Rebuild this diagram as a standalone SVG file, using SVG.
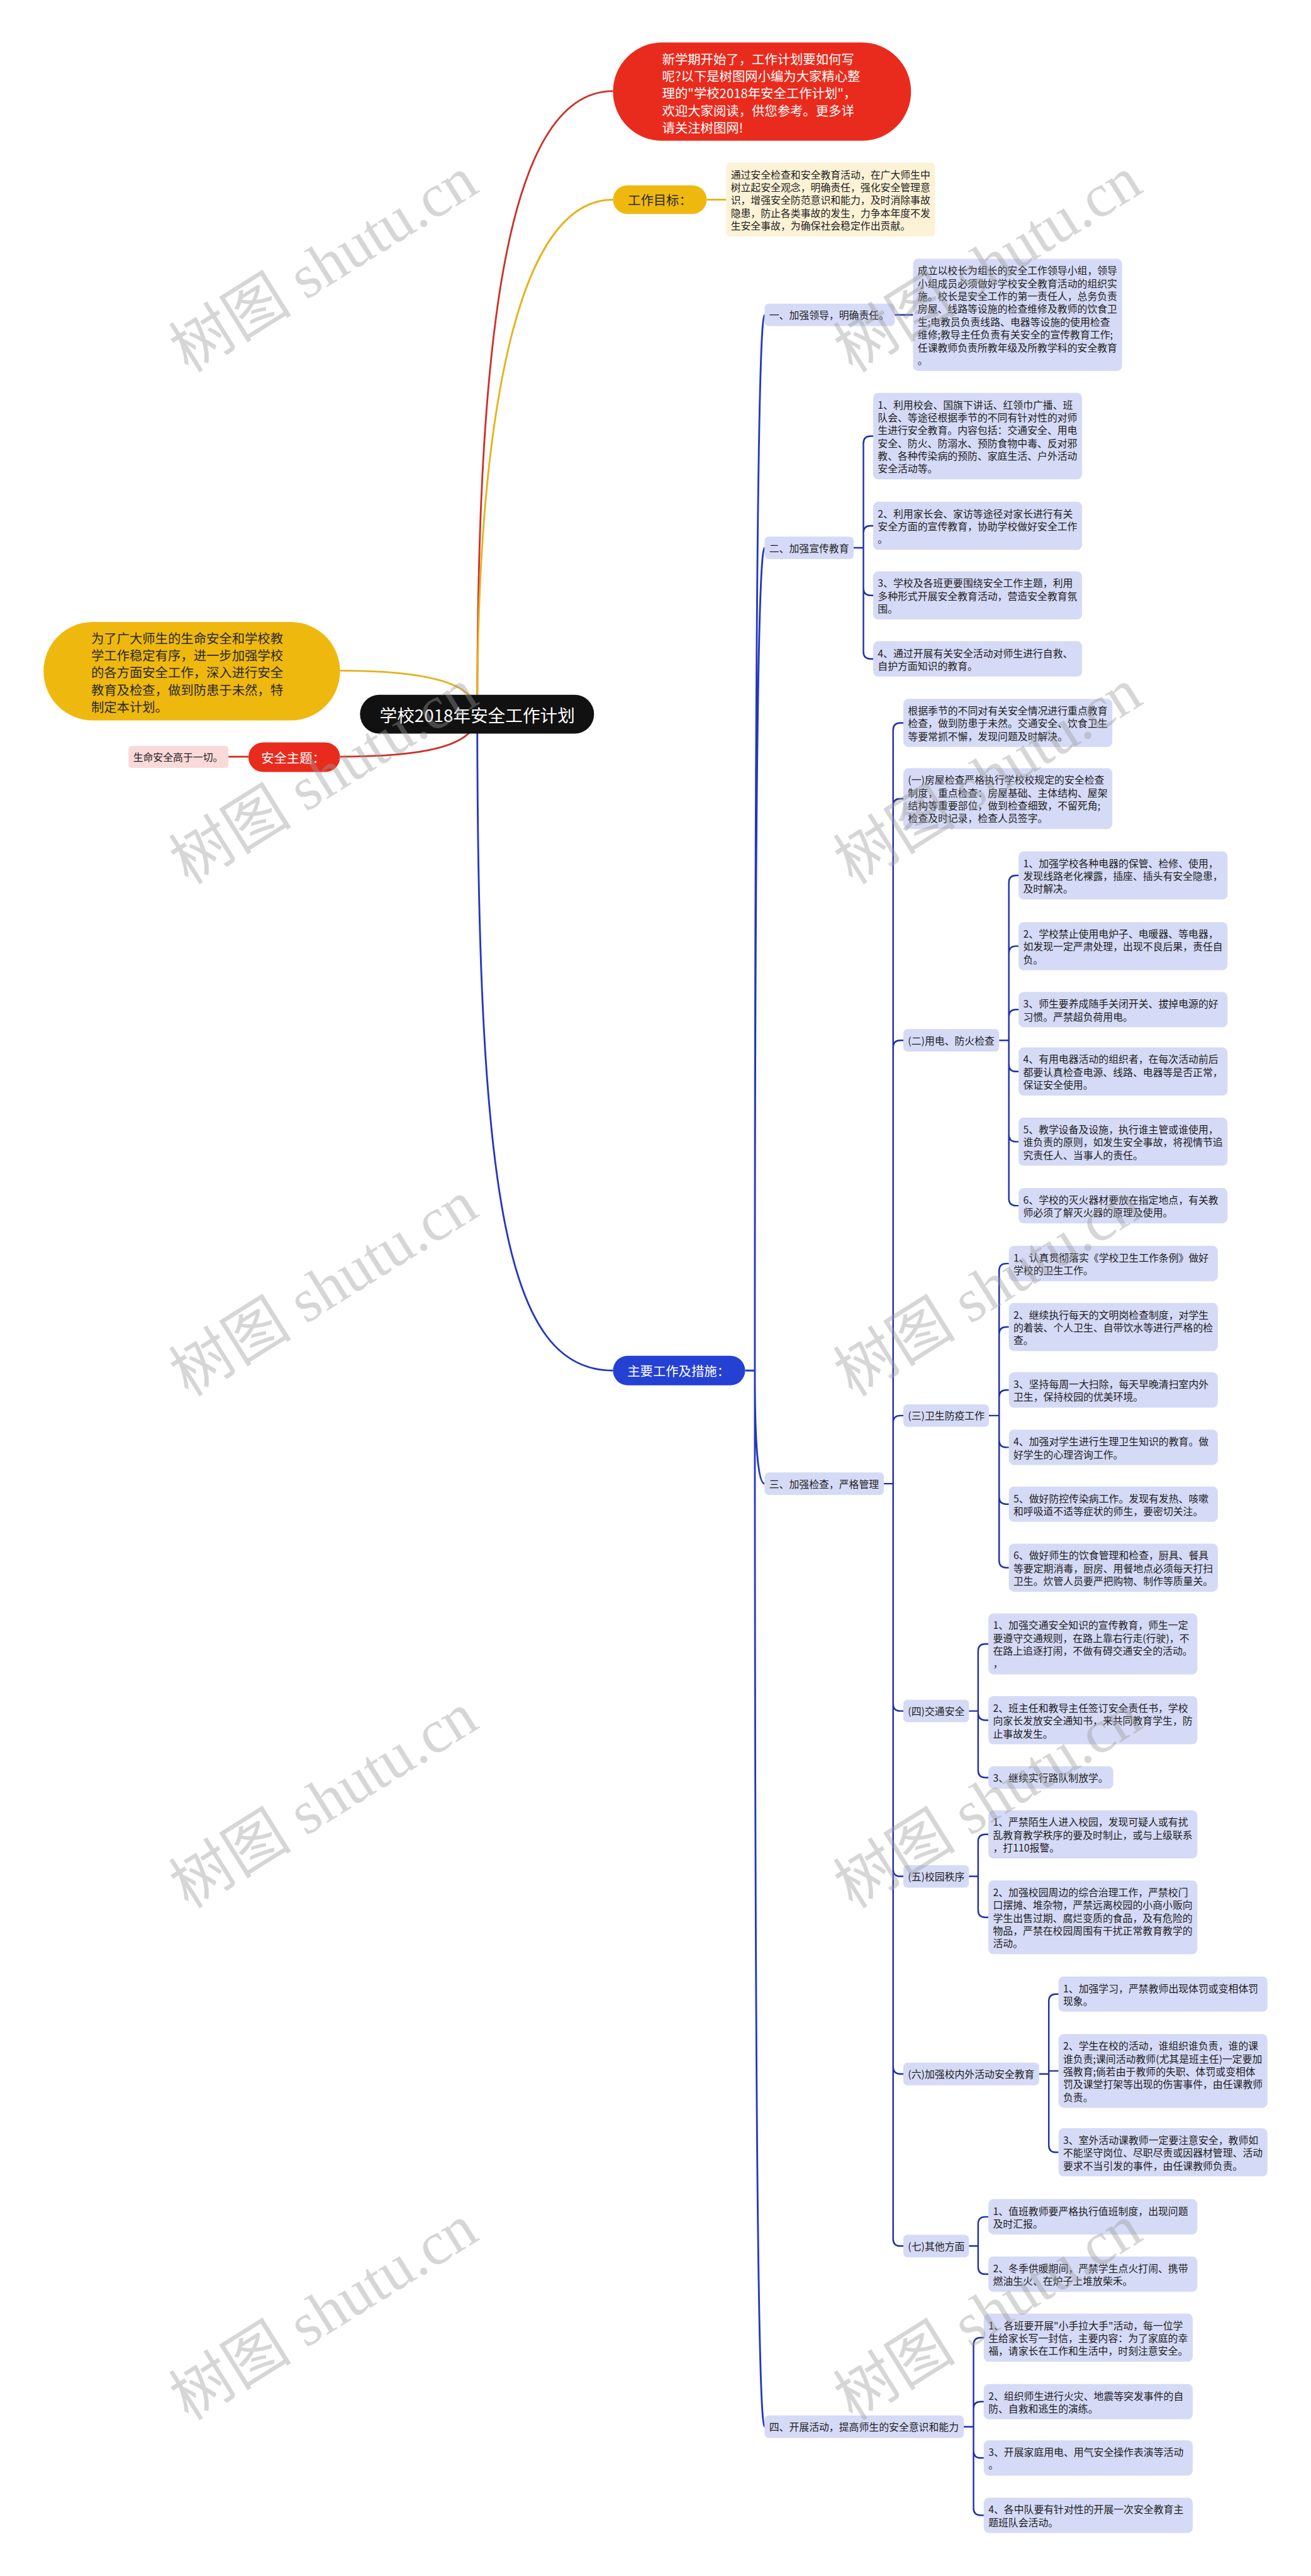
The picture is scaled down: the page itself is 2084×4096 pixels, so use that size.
<svg xmlns="http://www.w3.org/2000/svg" width="2084" height="4096" viewBox="0 0 2084 4096">
<style>
text{font-family:"Noto Sans CJK SC","Noto Sans",sans-serif}
.lf{fill:#D5DAF6}
.tx{font-size:19.5px;fill:#1e1e1e;dominant-baseline:central}
.big{font-size:25px;dominant-baseline:central}
.w{fill:#fff}
.dk{fill:#2a2a2a}
.cb{fill:none;stroke:#1F31A6;stroke-width:3}
.cm{fill:none;stroke:#2338BE;stroke-width:3.5}
.wm{font-family:"Liberation Serif","Noto Sans CJK SC",serif;font-size:120px;fill:#9a9a9a;opacity:.4;text-anchor:middle;dominant-baseline:central}
</style>
<rect width="2084" height="4096" fill="#fff"/>
<g transform="scale(0.8140625)">
<g id="connectors">
<path d="M932,1395 C932,700 980,178 1197,178" fill="none" stroke="#CC3129" stroke-width="3.5"/>
<path d="M932,1395 C932,900 990,390 1197,390" fill="none" stroke="#E5B21A" stroke-width="3.5"/>
<path d="M932,1395 C932,1330 820,1310 664,1310" fill="none" stroke="#E5B21A" stroke-width="3.5"/>
<path d="M932,1395 C932,1460 820,1478 664,1478" fill="none" stroke="#CC3129" stroke-width="3.5"/>
<path d="M446,1478 H485" fill="none" stroke="#CC3129" stroke-width="3.5"/>
<path d="M1380,390 H1418" fill="none" stroke="#E5B21A" stroke-width="3.5"/>
<path d="M932,1395 C932,2350 990,2677 1197,2677" class="cm"/>
<path class="cm" d="M1455,2677 H1474 M1474,2677 Q1474,615 1493,615 M1474,2677 Q1474,1070 1493,1070 M1474,2677 Q1474,2898 1493,2898 M1474,2677 Q1474,4740 1493,4740"/>
<path class="cb" d="M1747,615 H1783"/>
<path class="cb" d="M1667,1070 H1686 M1686,1070 V866 Q1686,852 1700,852 H1705 M1686,1070 V1041 Q1686,1027 1700,1027 H1705 M1686,1070 V1149 Q1686,1163 1700,1163 H1705 M1686,1070 V1273 Q1686,1287 1700,1287 H1705"/>
<path class="cb" d="M1726,2898 H1744 M1744,2898 V1426 Q1744,1412 1758,1412 H1764 M1744,2898 V1574 Q1744,1560 1758,1560 H1764 M1744,2898 V2046 Q1744,2032 1758,2032 H1764 M1744,2898 V2779 Q1744,2765 1758,2765 H1764 M1744,2898 V3328 Q1744,3342 1758,3342 H1764 M1744,2898 V3651 Q1744,3665 1758,3665 H1764 M1744,2898 V4037 Q1744,4051 1758,4051 H1764 M1744,2898 V4373 Q1744,4387 1758,4387 H1764"/>
<path class="cb" d="M1951,2032 H1970 M1970,2032 V1724 Q1970,1710 1984,1710 H1989 M1970,2032 V1862 Q1970,1848 1984,1848 H1989 M1970,2032 V1986 Q1970,1972 1984,1972 H1989 M1970,2032 V2079 Q1970,2093 1984,2093 H1989 M1970,2032 V2216 Q1970,2230 1984,2230 H1989 M1970,2032 V2341 Q1970,2355 1984,2355 H1989"/>
<path class="cb" d="M1931,2765 H1951 M1951,2765 V2482 Q1951,2468 1965,2468 H1970 M1951,2765 V2606 Q1951,2592 1965,2592 H1970 M1951,2765 V2729 Q1951,2715 1965,2715 H1970 M1951,2765 V2813 Q1951,2827 1965,2827 H1970 M1951,2765 V2924 Q1951,2938 1965,2938 H1970 M1951,2765 V3048 Q1951,3062 1965,3062 H1970"/>
<path class="cb" d="M1892,3342 H1910 M1910,3342 V3225 Q1910,3211 1924,3211 H1930 M1910,3342 V3346 Q1910,3360 1924,3360 H1930 M1910,3342 V3458 Q1910,3472 1924,3472 H1930"/>
<path class="cb" d="M1892,3665 H1910 M1910,3665 V3597 Q1910,3583 1924,3583 H1930 M1910,3665 V3731 Q1910,3745 1924,3745 H1930"/>
<path class="cb" d="M2029,4051 H2048 M2048,4051 V3909 Q2048,3895 2062,3895 H2067 M2048,4051 V4045 H2067 M2048,4051 V4190 Q2048,4204 2062,4204 H2067"/>
<path class="cb" d="M1892,4387 H1910 M1910,4387 V4344 Q1910,4330 1924,4330 H1930 M1910,4387 V4428 Q1910,4442 1924,4442 H1930"/>
<path class="cb" d="M1882,4740 H1901 M1901,4740 V4580 Q1901,4566 1915,4566 H1921 M1901,4740 V4705 Q1901,4691 1915,4691 H1921 M1901,4740 V4787 Q1901,4801 1915,4801 H1921 M1901,4740 V4899 Q1901,4913 1915,4913 H1921"/>
</g>

<g id="root"><rect x="703" y="1357" width="457" height="76" rx="38" fill="#111"/><text x="932" y="1395" text-anchor="middle" class="w" style="font-size:34px;dominant-baseline:central">学校2018年安全工作计划</text></g>

<g id="intro"><rect x="1197" y="83" width="582" height="192" rx="96" fill="#E92B1D"/>
<text class="big w"><tspan x="1293" y="114.5">新学期开始了，工作计划要如何写</tspan><tspan x="1293" y="147.8">呢?以下是树图网小编为大家精心整</tspan><tspan x="1293" y="181.1">理的"学校2018年安全工作计划"，</tspan><tspan x="1293" y="214.4">欢迎大家阅读，供您参考。更多详</tspan><tspan x="1293" y="247.7">请关注树图网!</tspan></text></g>

<g id="goal"><rect x="1197" y="362" width="183" height="56" rx="28" fill="#EFB80F"/><text x="1226" y="390" class="big dk">工作目标：</text></g>
<g id="goal-text"><rect x="1418" y="318" width="408" height="144" rx="8" fill="#FCF2D6"/>
<text class="tx"><tspan x="1427" y="340">通过安全检查和安全教育活动，在广大师生中</tspan><tspan x="1427" y="365">树立起安全观念，明确责任，强化安全管理意</tspan><tspan x="1427" y="390">识，增强安全防范意识和能力，及时消除事故</tspan><tspan x="1427" y="415">隐患，防止各类事故的发生，力争本年度不发</tspan><tspan x="1427" y="440">生安全事故，为确保社会稳定作出贡献。</tspan></text></g>

<g id="purpose"><rect x="85" y="1215" width="579" height="192" rx="96" fill="#EFB80F"/>
<text class="big dk"><tspan x="178" y="1245.5">为了广大师生的生命安全和学校教</tspan><tspan x="178" y="1279">学工作稳定有序，进一步加强学校</tspan><tspan x="178" y="1312.5">的各方面安全工作，深入进行安全</tspan><tspan x="178" y="1346">教育及检查，做到防患于未然，特</tspan><tspan x="178" y="1379.5">制定本计划。</tspan></text></g>

<g id="theme"><rect x="485" y="1450" width="179" height="58" rx="29" fill="#E92B1D"/><text x="510" y="1479" class="big w">安全主题：</text></g>
<g id="theme-text"><rect x="251" y="1457" width="195" height="43" rx="6" fill="#FAD9D9"/><text x="260" y="1478.5" class="tx">生命安全高于一切。</text></g>

<g id="main"><rect x="1197" y="2648" width="258" height="58" rx="29" fill="#2441D4"/><text x="1225" y="2677" class="big w">主要工作及措施：</text></g>

<g id="s1"><rect class="lf" x="1493" y="593" width="254" height="44" rx="8"/><text x="1502" y="615" class="tx">一、加强领导，明确责任。</text></g>
<g id="s1-leaf"><rect class="lf" x="1783" y="505.5" width="408" height="219" rx="10"/>
<text class="tx"><tspan x="1792" y="527.5">成立以校长为组长的安全工作领导小组，领导</tspan><tspan x="1792" y="552.5">小组成员必须做好学校安全教育活动的组织实</tspan><tspan x="1792" y="577.5">施。校长是安全工作的第一责任人，总务负责</tspan><tspan x="1792" y="602.5">房屋、线路等设施的检查维修及教师的饮食卫</tspan><tspan x="1792" y="627.5">生;电教员负责线路、电器等设施的使用检查</tspan><tspan x="1792" y="652.5">维修;教导主任负责有关安全的宣传教育工作;</tspan><tspan x="1792" y="677.5">任课教师负责所教年级及所教学科的安全教育</tspan><tspan x="1792" y="702.5">。</tspan></text></g>

<g id="s2"><rect class="lf" x="1493" y="1048" width="174" height="44" rx="8"/><text x="1502" y="1070" class="tx">二、加强宣传教育</text></g>
<g id="s2-1"><rect class="lf" x="1705" y="767.5" width="408" height="169" rx="10"/>
<text class="tx"><tspan x="1714" y="789.5">1、利用校会、国旗下讲话、红领巾广播、班</tspan><tspan x="1714" y="814.5">队会、等途径根据季节的不同有针对性的对师</tspan><tspan x="1714" y="839.5">生进行安全教育。内容包括：交通安全、用电</tspan><tspan x="1714" y="864.5">安全、防火、防溺水、预防食物中毒、反对邪</tspan><tspan x="1714" y="889.5">教、各种传染病的预防、家庭生活、户外活动</tspan><tspan x="1714" y="914.5">安全活动等。</tspan></text></g>
<g id="s2-2"><rect class="lf" x="1705" y="980" width="408" height="94" rx="10"/>
<text class="tx"><tspan x="1714" y="1002">2、利用家长会、家访等途径对家长进行有关</tspan><tspan x="1714" y="1027">安全方面的宣传教育，协助学校做好安全工作</tspan><tspan x="1714" y="1052">。</tspan></text></g>
<g id="s2-3"><rect class="lf" x="1705" y="1116" width="408" height="94" rx="10"/>
<text class="tx"><tspan x="1714" y="1138">3、学校及各班更要围绕安全工作主题，利用</tspan><tspan x="1714" y="1163">多种形式开展安全教育活动，营造安全教育氛</tspan><tspan x="1714" y="1188">围。</tspan></text></g>
<g id="s2-4"><rect class="lf" x="1705" y="1252.5" width="408" height="69" rx="10"/>
<text class="tx"><tspan x="1714" y="1274.5">4、通过开展有关安全活动对师生进行自救、</tspan><tspan x="1714" y="1299.5">自护方面知识的教育。</tspan></text></g>

<g id="s3"><rect class="lf" x="1493" y="2876" width="233" height="44" rx="8"/><text x="1502" y="2898" class="tx">三、加强检查，严格管理</text></g>
<g id="s3-a"><rect class="lf" x="1764" y="1365" width="408" height="94" rx="10"/>
<text class="tx"><tspan x="1773" y="1387">根据季节的不同对有关安全情况进行重点教育</tspan><tspan x="1773" y="1412">检查，做到防患于未然。交通安全、饮食卫生</tspan><tspan x="1773" y="1437">等要常抓不懈，发现问题及时解决。</tspan></text></g>
<g id="s3-b"><rect class="lf" x="1764" y="1500.5" width="408" height="119" rx="10"/>
<text class="tx"><tspan x="1773" y="1522.5">(一)房屋检查严格执行学校校规定的安全检查</tspan><tspan x="1773" y="1547.5">制度，重点检查：房屋基础、主体结构、屋架</tspan><tspan x="1773" y="1572.5">结构等重要部位，做到检查细致，不留死角;</tspan><tspan x="1773" y="1597.5">检查及时记录，检查人员签字。</tspan></text></g>

<g id="s3-2"><rect class="lf" x="1764" y="2010" width="187" height="44" rx="8"/><text x="1773" y="2032" class="tx">(二)用电、防火检查</text></g>
<g id="s3-2-1"><rect class="lf" x="1989" y="1663" width="408" height="94" rx="10"/>
<text class="tx"><tspan x="1998" y="1685">1、加强学校各种电器的保管、检修、使用，</tspan><tspan x="1998" y="1710">发现线路老化裸露，插座、插头有安全隐患，</tspan><tspan x="1998" y="1735">及时解决。</tspan></text></g>
<g id="s3-2-2"><rect class="lf" x="1989" y="1801" width="408" height="94" rx="10"/>
<text class="tx"><tspan x="1998" y="1823">2、学校禁止使用电炉子、电暖器、等电器，</tspan><tspan x="1998" y="1848">如发现一定严肃处理，出现不良后果，责任自</tspan><tspan x="1998" y="1873">负。</tspan></text></g>
<g id="s3-2-3"><rect class="lf" x="1989" y="1937.5" width="408" height="69" rx="10"/>
<text class="tx"><tspan x="1998" y="1959.5">3、师生要养成随手关闭开关、拔掉电源的好</tspan><tspan x="1998" y="1984.5">习惯。严禁超负荷用电。</tspan></text></g>
<g id="s3-2-4"><rect class="lf" x="1989" y="2046" width="408" height="94" rx="10"/>
<text class="tx"><tspan x="1998" y="2068">4、有用电器活动的组织者，在每次活动前后</tspan><tspan x="1998" y="2093">都要认真检查电源、线路、电器等是否正常，</tspan><tspan x="1998" y="2118">保证安全使用。</tspan></text></g>
<g id="s3-2-5"><rect class="lf" x="1989" y="2183" width="408" height="94" rx="10"/>
<text class="tx"><tspan x="1998" y="2205">5、教学设备及设施，执行谁主管或谁使用，</tspan><tspan x="1998" y="2230">谁负责的原则，如发生安全事故，将视情节追</tspan><tspan x="1998" y="2255">究责任人、当事人的责任。</tspan></text></g>
<g id="s3-2-6"><rect class="lf" x="1989" y="2320.5" width="408" height="69" rx="10"/>
<text class="tx"><tspan x="1998" y="2342.5">6、学校的灭火器材要放在指定地点，有关教</tspan><tspan x="1998" y="2367.5">师必须了解灭火器的原理及使用。</tspan></text></g>

<g id="s3-3"><rect class="lf" x="1764" y="2743" width="167" height="44" rx="8"/><text x="1773" y="2765" class="tx">(三)卫生防疫工作</text></g>
<g id="s3-3-1"><rect class="lf" x="1970" y="2433.5" width="408" height="69" rx="10"/>
<text class="tx"><tspan x="1979" y="2455.5">1、认真贯彻落实《学校卫生工作条例》做好</tspan><tspan x="1979" y="2480.5">学校的卫生工作。</tspan></text></g>
<g id="s3-3-2"><rect class="lf" x="1970" y="2545" width="408" height="94" rx="10"/>
<text class="tx"><tspan x="1979" y="2567">2、继续执行每天的文明岗检查制度，对学生</tspan><tspan x="1979" y="2592">的着装、个人卫生、自带饮水等进行严格的检</tspan><tspan x="1979" y="2617">查。</tspan></text></g>
<g id="s3-3-3"><rect class="lf" x="1970" y="2680.5" width="408" height="69" rx="10"/>
<text class="tx"><tspan x="1979" y="2702.5">3、坚持每周一大扫除，每天早晚清扫室内外</tspan><tspan x="1979" y="2727.5">卫生，保持校园的优美环境。</tspan></text></g>
<g id="s3-3-4"><rect class="lf" x="1970" y="2792.5" width="408" height="69" rx="10"/>
<text class="tx"><tspan x="1979" y="2814.5">4、加强对学生进行生理卫生知识的教育。做</tspan><tspan x="1979" y="2839.5">好学生的心理咨询工作。</tspan></text></g>
<g id="s3-3-5"><rect class="lf" x="1970" y="2903.5" width="408" height="69" rx="10"/>
<text class="tx"><tspan x="1979" y="2925.5">5、做好防控传染病工作。发现有发热、咳嗽</tspan><tspan x="1979" y="2950.5">和呼吸道不适等症状的师生，要密切关注。</tspan></text></g>
<g id="s3-3-6"><rect class="lf" x="1970" y="3015" width="408" height="94" rx="10"/>
<text class="tx"><tspan x="1979" y="3037">6、做好师生的饮食管理和检查，厨具、餐具</tspan><tspan x="1979" y="3062">等要定期消毒，厨房、用餐地点必须每天打扫</tspan><tspan x="1979" y="3087">卫生。炊管人员要严把购物、制作等质量关。</tspan></text></g>

<g id="s3-4"><rect class="lf" x="1764" y="3320" width="128" height="44" rx="8"/><text x="1773" y="3342" class="tx">(四)交通安全</text></g>
<g id="s3-4-1"><rect class="lf" x="1930" y="3151.5" width="408" height="119" rx="10"/>
<text class="tx"><tspan x="1939" y="3173.5">1、加强交通安全知识的宣传教育，师生一定</tspan><tspan x="1939" y="3198.5">要遵守交通规则，在路上靠右行走(行驶)，不</tspan><tspan x="1939" y="3223.5">在路上追逐打闹，不做有碍交通安全的活动。</tspan><tspan x="1939" y="3248.5">，</tspan></text></g>
<g id="s3-4-2"><rect class="lf" x="1930" y="3313" width="408" height="94" rx="10"/>
<text class="tx"><tspan x="1939" y="3335">2、班主任和教导主任签订安全责任书，学校</tspan><tspan x="1939" y="3360">向家长发放安全通知书，来共同教育学生，防</tspan><tspan x="1939" y="3385">止事故发生。</tspan></text></g>
<g id="s3-4-3"><rect class="lf" x="1930" y="3450" width="244" height="44" rx="10"/><text x="1939" y="3472" class="tx">3、继续实行路队制放学。</text></g>

<g id="s3-5"><rect class="lf" x="1764" y="3643" width="128" height="44" rx="8"/><text x="1773" y="3665" class="tx">(五)校园秩序</text></g>
<g id="s3-5-1"><rect class="lf" x="1930" y="3536" width="408" height="94" rx="10"/>
<text class="tx"><tspan x="1939" y="3558">1、严禁陌生人进入校园，发现可疑人或有扰</tspan><tspan x="1939" y="3583">乱教育教学秩序的要及时制止，或与上级联系</tspan><tspan x="1939" y="3608">，打110报警。</tspan></text></g>
<g id="s3-5-2"><rect class="lf" x="1930" y="3673" width="408" height="144" rx="10"/>
<text class="tx"><tspan x="1939" y="3695">2、加强校园周边的综合治理工作，严禁校门</tspan><tspan x="1939" y="3720">口摆摊、堆杂物，严禁远离校园的小商小贩向</tspan><tspan x="1939" y="3745">学生出售过期、腐烂变质的食品，及有危险的</tspan><tspan x="1939" y="3770">物品，严禁在校园周围有干扰正常教育教学的</tspan><tspan x="1939" y="3795">活动。</tspan></text></g>

<g id="s3-6"><rect class="lf" x="1764" y="4029" width="265" height="44" rx="8"/><text x="1773" y="4051" class="tx">(六)加强校内外活动安全教育</text></g>
<g id="s3-6-1"><rect class="lf" x="2067" y="3860.5" width="408" height="69" rx="10"/>
<text class="tx"><tspan x="2076" y="3882.5">1、加强学习，严禁教师出现体罚或变相体罚</tspan><tspan x="2076" y="3907.5">现象。</tspan></text></g>
<g id="s3-6-2"><rect class="lf" x="2067" y="3973" width="408" height="144" rx="10"/>
<text class="tx"><tspan x="2076" y="3995">2、学生在校的活动，谁组织谁负责，谁的课</tspan><tspan x="2076" y="4020">谁负责;课间活动教师(尤其是班主任)一定要加</tspan><tspan x="2076" y="4045">强教育;倘若由于教师的失职、体罚或变相体</tspan><tspan x="2076" y="4070">罚及课堂打架等出现的伤害事件，由任课教师</tspan><tspan x="2076" y="4095">负责。</tspan></text></g>
<g id="s3-6-3"><rect class="lf" x="2067" y="4157" width="408" height="94" rx="10"/>
<text class="tx"><tspan x="2076" y="4179">3、室外活动课教师一定要注意安全，教师如</tspan><tspan x="2076" y="4204">不能坚守岗位、尽职尽责或因器材管理、活动</tspan><tspan x="2076" y="4229">要求不当引发的事件，由任课教师负责。</tspan></text></g>

<g id="s3-7"><rect class="lf" x="1764" y="4365" width="128" height="44" rx="8"/><text x="1773" y="4387" class="tx">(七)其他方面</text></g>
<g id="s3-7-1"><rect class="lf" x="1930" y="4295.5" width="408" height="69" rx="10"/>
<text class="tx"><tspan x="1939" y="4317.5">1、值班教师要严格执行值班制度，出现问题</tspan><tspan x="1939" y="4342.5">及时汇报。</tspan></text></g>
<g id="s3-7-2"><rect class="lf" x="1930" y="4407.5" width="408" height="69" rx="10"/>
<text class="tx"><tspan x="1939" y="4429.5">2、冬季供暖期间，严禁学生点火打闹、携带</tspan><tspan x="1939" y="4454.5">燃油生火、在炉子上堆放柴禾。</tspan></text></g>

<g id="s4"><rect class="lf" x="1493" y="4718" width="389" height="44" rx="8"/><text x="1502" y="4740" class="tx">四、开展活动，提高师生的安全意识和能力</text></g>
<g id="s4-1"><rect class="lf" x="1921" y="4519" width="408" height="94" rx="10"/>
<text class="tx"><tspan x="1930" y="4541">1、各班要开展"小手拉大手"活动，每一位学</tspan><tspan x="1930" y="4566">生给家长写一封信，主要内容：为了家庭的幸</tspan><tspan x="1930" y="4591">福，请家长在工作和生活中，时刻注意安全。</tspan></text></g>
<g id="s4-2"><rect class="lf" x="1921" y="4656.5" width="408" height="69" rx="10"/>
<text class="tx"><tspan x="1930" y="4678.5">2、组织师生进行火灾、地震等突发事件的自</tspan><tspan x="1930" y="4703.5">防、自救和逃生的演练。</tspan></text></g>
<g id="s4-3"><rect class="lf" x="1921" y="4766.5" width="408" height="69" rx="10"/>
<text class="tx"><tspan x="1930" y="4788.5">3、开展家庭用电、用气安全操作表演等活动</tspan><tspan x="1930" y="4813.5">。</tspan></text></g>
<g id="s4-4"><rect class="lf" x="1921" y="4878.5" width="408" height="69" rx="10"/>
<text class="tx"><tspan x="1930" y="4900.5">4、各中队要有针对性的开展一次安全教育主</tspan><tspan x="1930" y="4925.5">题班队会活动。</tspan></text></g>

<g id="watermarks">
<text class="wm" x="632" y="517" transform="rotate(-32 632 517)">树图 shutu.cn</text>
<text class="wm" x="1929" y="517" transform="rotate(-32 1929 517)">树图 shutu.cn</text>
<text class="wm" x="632" y="1517" transform="rotate(-32 632 1517)">树图 shutu.cn</text>
<text class="wm" x="1929" y="1517" transform="rotate(-32 1929 1517)">树图 shutu.cn</text>
<text class="wm" x="632" y="2517" transform="rotate(-32 632 2517)">树图 shutu.cn</text>
<text class="wm" x="1929" y="2517" transform="rotate(-32 1929 2517)">树图 shutu.cn</text>
<text class="wm" x="632" y="3517" transform="rotate(-32 632 3517)">树图 shutu.cn</text>
<text class="wm" x="1929" y="3517" transform="rotate(-32 1929 3517)">树图 shutu.cn</text>
<text class="wm" x="632" y="4517" transform="rotate(-32 632 4517)">树图 shutu.cn</text>
<text class="wm" x="1929" y="4517" transform="rotate(-32 1929 4517)">树图 shutu.cn</text>
</g>
</g>
</svg>
